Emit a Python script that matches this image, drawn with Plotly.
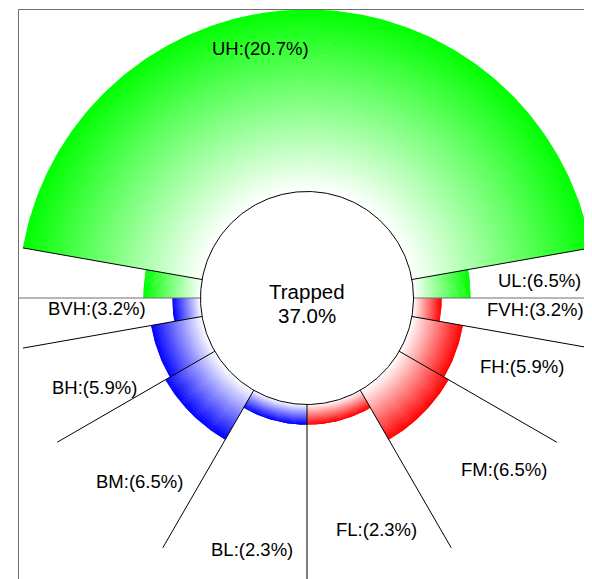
import numpy as np
import plotly.graph_objects as go

# ---------------- data ----------------
categories = ["UH", "UL", "FVH", "FH", "FM", "FL", "BL", "BM", "BH", "BVH"]
values = [20.7, 6.5, 3.2, 5.9, 6.5, 2.3, 2.3, 6.5, 5.9, 3.2]
groups = ["U", "U", "F", "F", "F", "F", "B", "B", "B", "B"]
center_label = "Trapped"
center_value = 37.0

# ---------------- layout / geometry ----------------
# angular extent (degrees, counter-clockwise from +x) of each category's sector(s)
sector_spans = [
    [(10, 170)],
    [(0, 10), (170, 180)],
    [(-10, 0)],
    [(-30, -10)],
    [(-60, -30)],
    [(-90, -60)],
    [(-120, -90)],
    [(-150, -120)],
    [(-170, -150)],
    [(-180, -170)],
]
# label placement (angle deg, radius px)
label_place = [
    (100.6, 254), (4.2, 233.5), (-3.0, 229.0), (-17.7, 226), (-41.1, 261.5),
    (-73.3, 242), (257.7, 257), (227.6, 249), (202.8, 230), (183.0, 210),
]
group_colors = {"U": (0, 255, 0), "F": (255, 0, 0), "B": (0, 0, 255)}

R_IN = 106.5
R_MAX = 288.5
scale = (R_MAX - R_IN) / max(values)
N_BANDS = 64

PAGE_OFF = 8          # page body margin
W, H = 592 - PAGE_OFF, 579 - PAGE_OFF
CX, CY = 307 - PAGE_OFF, 298 - PAGE_OFF
ML, MT = 9, 0

fig = go.Figure()


def sector_poly(a0, a1, r0, r1):
    n = max(int(abs(a1 - a0)) + 1, 2)
    th = np.radians(np.linspace(a0, a1, n))
    xs = list(r1 * np.cos(th)) + list(r0 * np.cos(th[::-1]))
    ys = list(r1 * np.sin(th)) + list(r0 * np.sin(th[::-1]))
    xs.append(xs[0]); ys.append(ys[0])
    return xs, ys


for g, col in group_colors.items():
    for i in range(N_BANDS):
        t = (i + 0.5) / N_BANDS
        rgb = tuple(int(round(255 * (1 - t) + c * t)) for c in col)
        X, Y = [], []
        for cat, v, gg, spans in zip(categories, values, groups, sector_spans):
            if gg != g:
                continue
            R = R_IN + v * scale
            r0 = R_IN + (R - R_IN) * i / N_BANDS
            r1 = R_IN + (R - R_IN) * (i + 1) / N_BANDS
            r1 = min(R, r1 + 0.6)
            for a0, a1 in spans:
                xs, ys = sector_poly(a0, a1, r0, r1)
                X += xs + [None]
                Y += ys + [None]
        fig.add_trace(go.Scatter(
            x=X, y=Y, mode="lines", fill="toself",
            fillcolor="rgb(%d,%d,%d)" % rgb, line=dict(width=0),
            hoverinfo="skip", showlegend=False))

# boundary lines
edges = sorted({a for spans in sector_spans for sp in spans for a in sp})
bx, by = [], []
for a in edges:
    th = np.radians(a)
    if a % 180 == 0:
        continue
    bx += [R_IN * np.cos(th), R_MAX * np.cos(th), None]
    by += [R_IN * np.sin(th), R_MAX * np.sin(th), None]
fig.add_trace(go.Scatter(x=[-R_MAX, R_MAX], y=[0, 0], mode="lines",
                         line=dict(color="#6e6e6e", width=1),
                         hoverinfo="skip", showlegend=False))
fig.add_trace(go.Scatter(x=bx, y=by, mode="lines", line=dict(color="black", width=1),
                         hoverinfo="skip", showlegend=False))

# central circle
th = np.radians(np.linspace(0, 360, 361))
fig.add_trace(go.Scatter(x=R_IN * np.cos(th), y=R_IN * np.sin(th), mode="lines",
                         fill="toself", fillcolor="white",
                         line=dict(color="black", width=1),
                         hoverinfo="skip", showlegend=False))

# frame
fig.add_shape(type="rect", x0=-R_MAX, x1=R_MAX, y0=-R_MAX, y1=R_MAX,
              line=dict(color="#6e6e6e", width=1), layer="above")

font = "Liberation Sans, Arial, Helvetica, sans-serif"
for cat, v, (la, lr) in zip(categories, values, label_place):
    fig.add_annotation(x=lr * np.cos(np.radians(la)), y=lr * np.sin(np.radians(la)),
                       text="%s:(%.1f%%)" % (cat, v), showarrow=False,
                       font=dict(family=font, size=18.5, color="black"),
                       xanchor="center", yanchor="middle")

fig.add_annotation(x=0, y=7, text=center_label, showarrow=False,
                   font=dict(family=font, size=20.5, color="black"),
                   xanchor="center", yanchor="middle")
fig.add_annotation(x=0, y=-17, text="%.1f%%" % center_value, showarrow=False,
                   font=dict(family=font, size=20.5, color="black"),
                   xanchor="center", yanchor="middle")

fig.update_layout(
    width=W, height=H,
    margin=dict(l=ML, r=0, t=MT, b=0),
    paper_bgcolor="white", plot_bgcolor="white",
    xaxis=dict(range=[-(CX - ML), W - CX], visible=False, fixedrange=True),
    yaxis=dict(range=[CY - H, CY - MT], visible=False, fixedrange=True),
    showlegend=False,
)

fig.write_html("out.html")
